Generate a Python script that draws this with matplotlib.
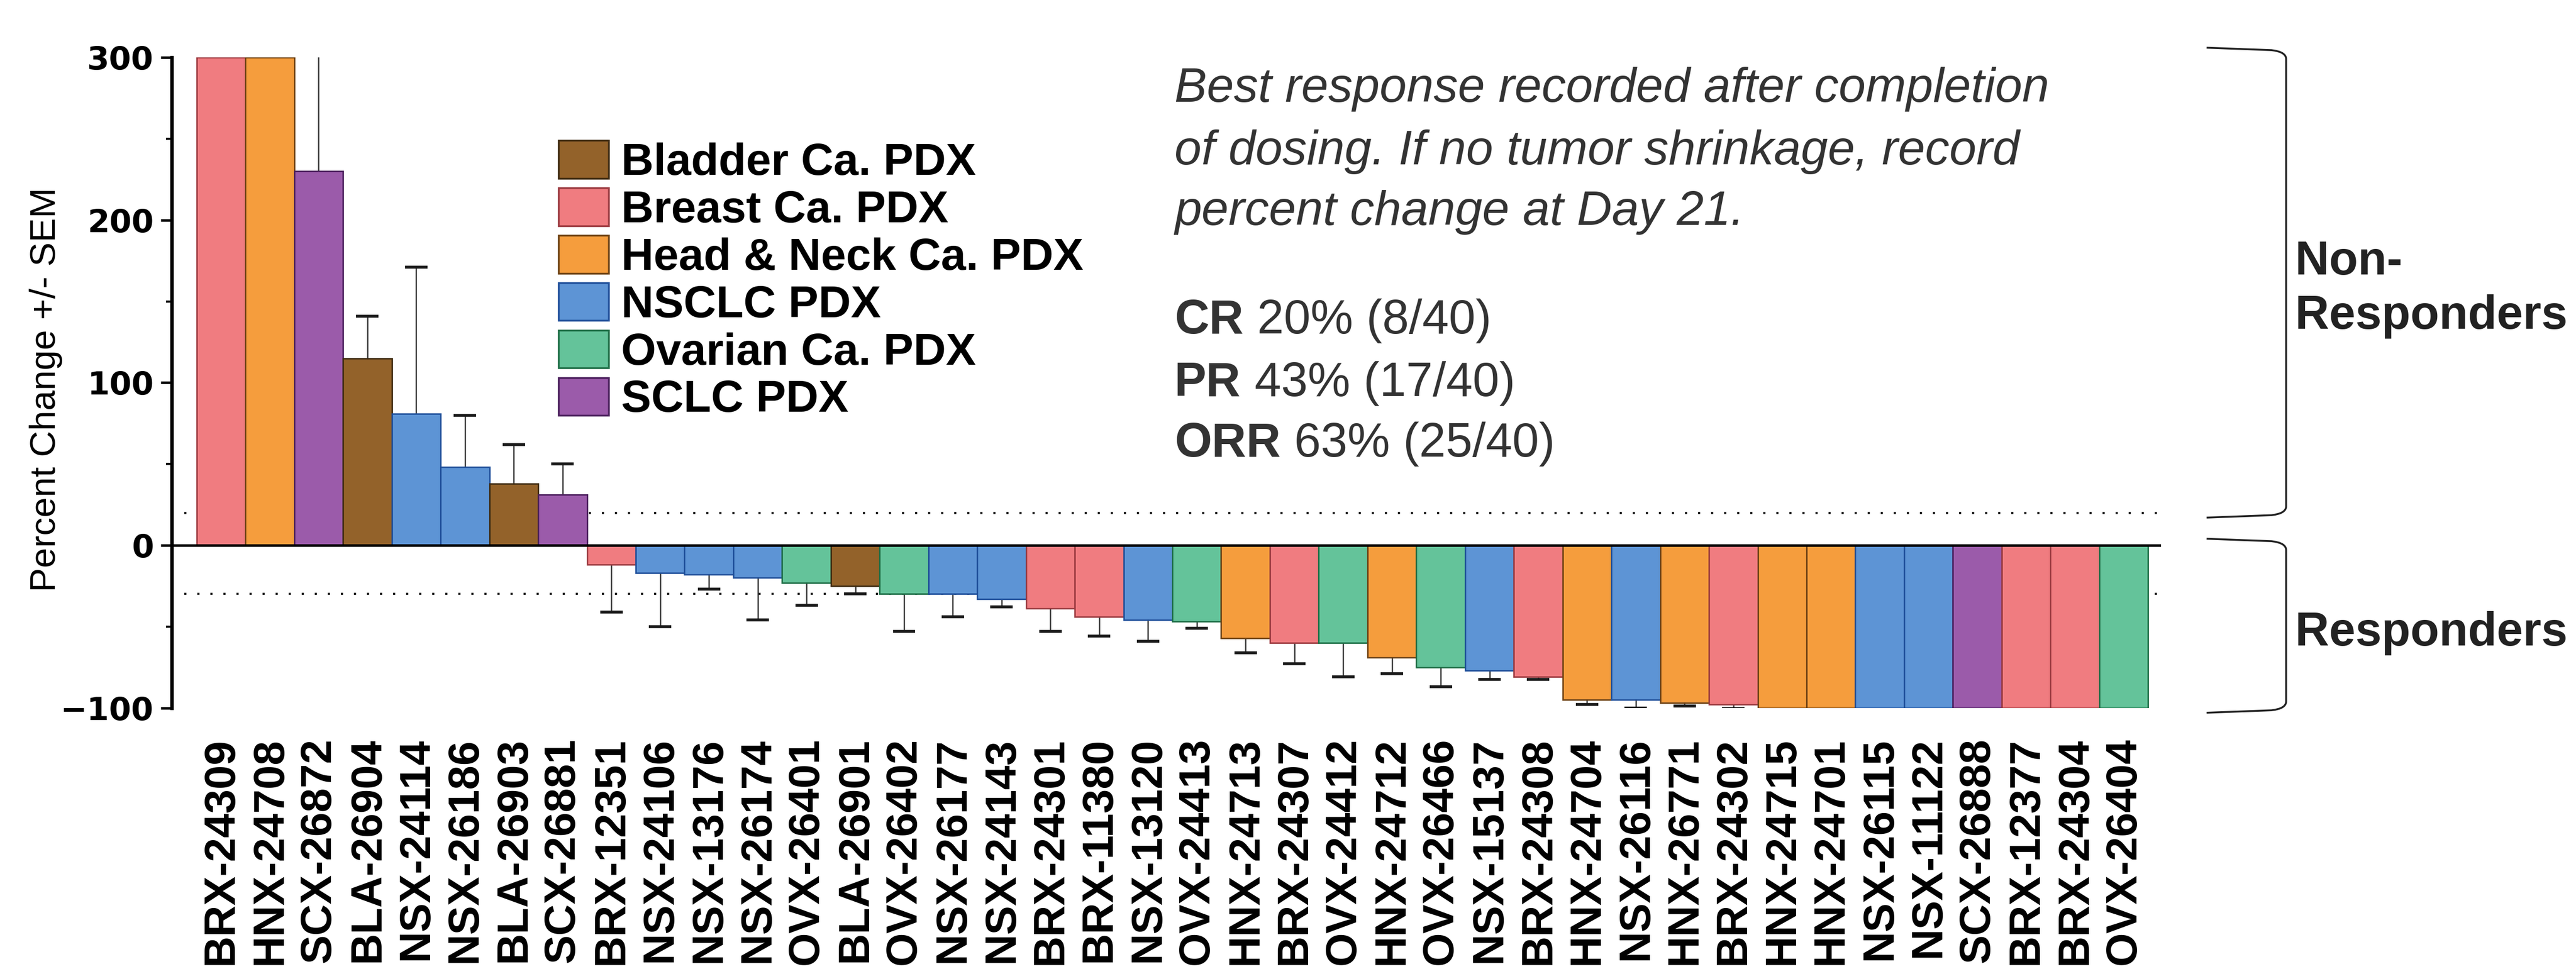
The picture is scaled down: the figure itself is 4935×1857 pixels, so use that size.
import numpy as np
import matplotlib.pyplot as plt
from matplotlib.patches import Patch, PathPatch
from matplotlib.path import Path
from matplotlib.ticker import MultipleLocator

plt.rcParams['font.family'] = ['Liberation Sans', 'DejaVu Sans']

# PDX models, left to right
models = ['BRX-24309', 'HNX-24708', 'SCX-26872', 'BLA-26904', 'NSX-24114', 'NSX-26186',
          'BLA-26903', 'SCX-26881', 'BRX-12351', 'NSX-24106', 'NSX-13176', 'NSX-26174',
          'OVX-26401', 'BLA-26901', 'OVX-26402', 'NSX-26177', 'NSX-24143', 'BRX-24301',
          'BRX-11380', 'NSX-13120', 'OVX-24413', 'HNX-24713', 'BRX-24307', 'OVX-24412',
          'HNX-24712', 'OVX-26466', 'NSX-15137', 'BRX-24308', 'HNX-24704', 'NSX-26116',
          'HNX-26771', 'BRX-24302', 'HNX-24715', 'HNX-24701', 'NSX-26115', 'NSX-11122',
          'SCX-26888', 'BRX-12377', 'BRX-24304', 'OVX-26404']
tumor = ['Breast', 'HN', 'SCLC', 'Bladder', 'NSCLC', 'NSCLC',
         'Bladder', 'SCLC', 'Breast', 'NSCLC', 'NSCLC', 'NSCLC',
         'Ovarian', 'Bladder', 'Ovarian', 'NSCLC', 'NSCLC', 'Breast',
         'Breast', 'NSCLC', 'Ovarian', 'HN', 'Breast', 'Ovarian',
         'HN', 'Ovarian', 'NSCLC', 'Breast', 'HN', 'NSCLC',
         'HN', 'Breast', 'HN', 'HN', 'NSCLC', 'NSCLC',
         'SCLC', 'Breast', 'Breast', 'Ovarian']
change = np.array([300, 300, 230, 115, 81, 48, 38, 31, -12, -17, -18, -20,
                   -23, -25, -30, -30, -33, -39, -44, -46, -47, -57, -60, -60,
                   -69, -75, -77, -81, -95, -95, -97, -98, -100, -100, -100, -100,
                   -100, -100, -100, -100])
sem = np.array([0, 0, 100, 26, 90, 32, 24, 19, 29, 33, 9, 26,
                14, 5, 23, 14, 5, 14, 12, 13, 4, 9, 13, 21,
                10, 12, 5.5, 1.5, 3, 5, 2, 2.5, 0, 0, 0, 0,
                0, 0, 0, 0])

types = ['Bladder', 'Breast', 'HN', 'NSCLC', 'Ovarian', 'SCLC']
type_labels = ['Bladder Ca. PDX', 'Breast Ca. PDX', 'Head & Neck Ca. PDX',
               'NSCLC PDX', 'Ovarian Ca. PDX', 'SCLC PDX']
face = {'Bladder': '#93622a', 'Breast': '#f07c80', 'HN': '#f59d3d',
        'NSCLC': '#5d94d5', 'Ovarian': '#64c39a', 'SCLC': '#9b5baa'}
edge = {'Bladder': '#3e2a10', 'Breast': '#9b3a40', 'HN': '#6e4214',
        'NSCLC': '#1f4f9a', 'Ovarian': '#1e6e46', 'SCLC': '#4a1f5c'}

fig = plt.figure(figsize=(49.35, 18.57), dpi=100)
ax = fig.add_axes([0.0667, 0.2695, 0.7723, 0.6712])

x = np.arange(len(models))
ax.bar(x, change, width=1.0, color=[face[t] for t in tumor],
       edgecolor=[edge[t] for t in tumor], linewidth=2, zorder=3)

# one-sided SEM bars, pointing away from zero
has = sem > 0
ends = np.where(change >= 0, change + sem, change - sem)
ax.vlines(x[has], change[has], ends[has], color='#333333', lw=1.8, zorder=2)
ax.hlines(ends[has], x[has] - 0.23, x[has] + 0.23, color='#1a1a1a', lw=4, zorder=2)

ax.axhline(0, color='black', lw=3.5, zorder=4)
ax.hlines([20, -30], -0.75, 39.77, colors='#222222', linestyles=(0, (1, 5)), lw=3, zorder=1)

ax.set_xlim(-1.01, 39.77)
ax.set_ylim(-100, 300)
for s in ['top', 'right', 'bottom']:
    ax.spines[s].set_visible(False)
ax.spines['left'].set_linewidth(4.8)

ax.set_yticks([-100, 0, 100, 200, 300])
ax.yaxis.set_minor_locator(MultipleLocator(50))
ax.tick_params(axis='y', which='major', length=15, width=3.5, pad=10, labelsize=44)
ax.tick_params(axis='y', which='minor', length=8, width=3)
for lbl in ax.get_yticklabels():
    lbl.set_fontfamily(['DejaVu Sans'])
    lbl.set_fontweight('bold')

ax.set_xticks(x)
ax.set_xticklabels(models, rotation=90, fontsize=60, fontweight='bold', va='top', ha='center')
ax.tick_params(axis='x', length=0, pad=41)

fig.text(0.0179, 0.598, 'Percent Change +/- SEM', rotation=90, ha='center', va='center',
         fontsize=50)

# legend
handles = [Patch(facecolor=face[t], edgecolor=edge[t], lw=2.5, label=l)
           for t, l in zip(types, type_labels)]
fig.legend(handles=handles, loc='upper left', bbox_to_anchor=(0.2168, 0.855), frameon=False,
           prop=dict(weight='bold', size=62), handlelength=1.12, handleheight=0.92,
           handletextpad=0.28, labelspacing=0.08, borderaxespad=0, borderpad=0)

# annotation text
note = ['Best response recorded after completion',
        'of dosing. If no tumor shrinkage, record',
        'percent change at Day 21.']
for line, yy in zip(note, [0.8949, 0.8305, 0.7678]):
    fig.text(0.456, yy, line, fontsize=67, style='italic', color='#333333', va='baseline')

rates = [('CR', ' 20% (8/40)'), ('PR', ' 43% (17/40)'), ('ORR', ' 63% (25/40)')]
for (b, rest), yy in zip(rates, [0.656, 0.5915, 0.529]):
    t = fig.text(0.456, yy, b, fontsize=66, fontweight='bold', color='#333333', va='baseline')
    ax.annotate(rest, xy=(1, 0), xycoords=t, va='bottom', ha='left', fontsize=66,
                color='#333333', annotation_clip=False)

fig.text(0.891, 0.717, 'Non-', fontsize=65, fontweight='bold', color='#222222', va='baseline')
fig.text(0.891, 0.661, 'Responders', fontsize=65, fontweight='bold', color='#222222', va='baseline')
fig.text(0.891, 0.334, 'Responders', fontsize=65, fontweight='bold', color='#222222', va='baseline')


def bracket(y_top, y_bot, x0=40.7, x1=42.33, r=0.3, ry=7):
    verts = [(x0, y_top), (x1 - r, y_top - 1.5), (x1, y_top - 2.5), (x1, y_top - ry),
             (x1, y_bot + ry), (x1, y_bot + 2.5), (x1 - r, y_bot + 1.5), (x0, y_bot)]
    codes = [Path.MOVETO, Path.LINETO, Path.CURVE3, Path.CURVE3,
             Path.LINETO, Path.CURVE3, Path.CURVE3, Path.LINETO]
    ax.add_patch(PathPatch(Path(verts, codes), fill=False, lw=2.6, color='#222222',
                           clip_on=False))


bracket(306, 17)
bracket(4, -103)

fig.savefig('out.png', dpi=100)
